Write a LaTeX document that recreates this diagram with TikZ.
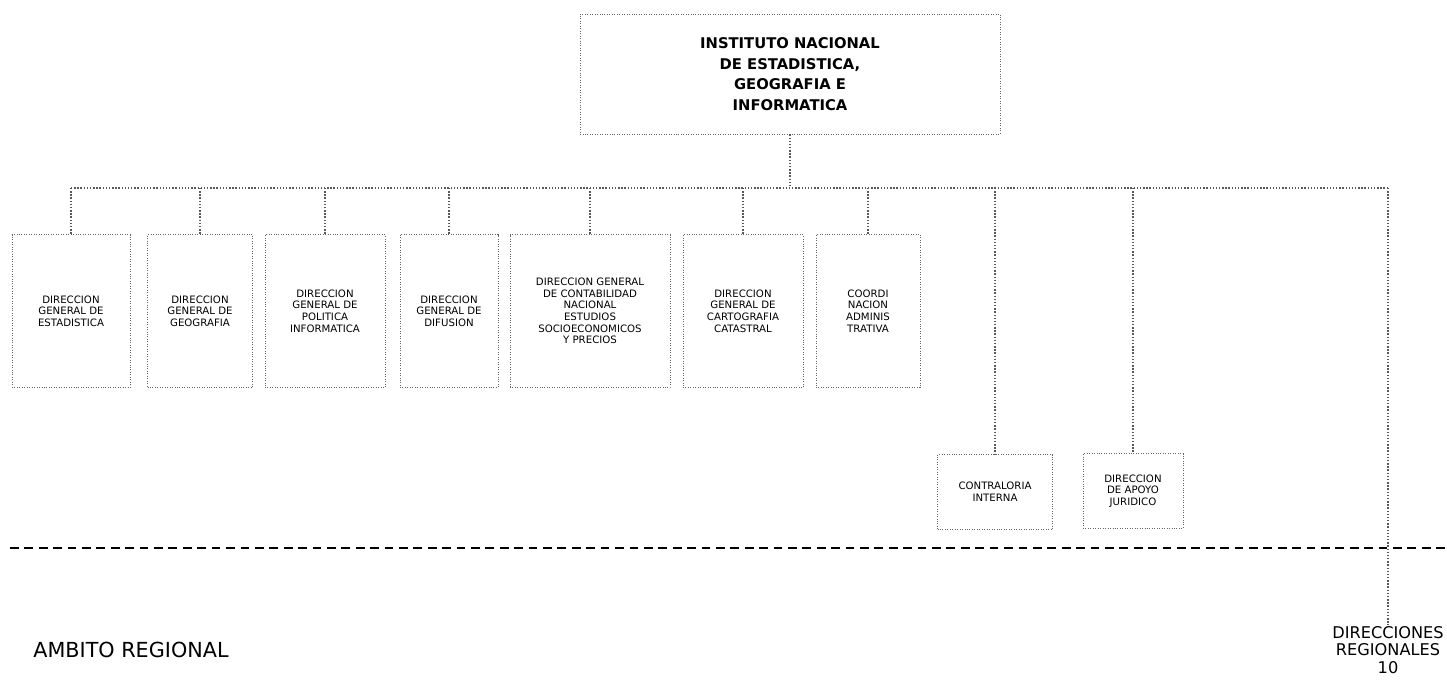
\documentclass[tikz,border=0pt]{standalone}
\usepackage{fontspec}
\setmainfont{DejaVu Sans}
\begin{document}
\begin{tikzpicture}[
        x=0.02cm, y=-0.02cm,
        unit/.style={draw=black!60, densely dotted, align=center, inner sep=1pt, font=\fontsize{5.8}{6.6}\selectfont, minimum height=3.06cm},
        staff/.style={unit, minimum height=1.5cm},
        link/.style={draw=black!65, densely dotted, thick},
        sep/.style={draw=black, thick, dash pattern=on 5pt off 3.2pt}
      ]
        \useasboundingbox (0,0) rectangle (1447,690);
        % head
        \node (inegi) [draw=black!60, densely dotted, minimum width=8.4cm, minimum height=2.4cm, align=center,
               font=\fontsize{8.4}{11.8}\selectfont\bfseries] at (790,74)
               {INSTITUTO NACIONAL\\ DE ESTADISTICA,\\ GEOGRAFIA E\\ INFORMATICA};
        % direcciones generales
        \node (estad) [unit, minimum width=2.36cm] at (71,311)  {DIRECCION\\ GENERAL DE\\ ESTADISTICA};
        \node (geog)  [unit, minimum width=2.1cm]  at (200,311) {DIRECCION\\ GENERAL DE\\ GEOGRAFIA};
        \node (polit) [unit, minimum width=2.4cm]  at (325,311) {DIRECCION\\ GENERAL DE\\ POLITICA\\ INFORMATICA};
        \node (difus) [unit, minimum width=1.96cm] at (449,311) {DIRECCION\\ GENERAL DE\\ DIFUSION};
        \node (conta) [unit, minimum width=3.2cm]  at (590,311) {DIRECCION GENERAL\\ DE CONTABILIDAD\\ NACIONAL\\ ESTUDIOS\\ SOCIOECONOMICOS\\ Y PRECIOS};
        \node (carto) [unit, minimum width=2.4cm]  at (743,311) {DIRECCION\\ GENERAL DE\\ CARTOGRAFIA\\ CATASTRAL};
        \node (coord) [unit, minimum width=2.08cm] at (868,311) {COORDI\\ NACION\\ ADMINIS\\ TRATIVA};
        % staff
        \node (contra) [staff, minimum width=2.3cm] at (995,492)  {CONTRALORIA\\ INTERNA};
        \node (jurid)  [staff, minimum width=2.0cm] at (1133,491) {DIRECCION\\ DE APOYO\\ JURIDICO};
        % regional
        \node (region) [font=\fontsize{9.2}{9.8}\selectfont, align=center, inner sep=1pt] at (1388,650) {DIRECCIONES\\ REGIONALES\\ 10};
        \node (ambito) [font=\fontsize{11.8}{14}\selectfont, anchor=west, inner sep=0pt] at (33,650) {AMBITO REGIONAL};
        \coordinate (busL) at (71,188);
        \coordinate (busR) at (1388,188);
        \coordinate (sepL) at (10,548);
        \coordinate (sepR) at (1447,548);
        % connectors
        \draw[link] (inegi.south) -- (inegi.south |- busL);
        \draw[link] (busL) -- (busR);
        \foreach \n in {estad,geog,polit,difus,conta,carto,coord}
          \draw[link] (\n.north |- busL) -- (\n.north);
        \draw[link] (contra.north |- busL) -- (contra.north);
        \draw[link] (jurid.north |- busL) -- (jurid.north);
        \draw[link] (busR) -- (region.north);
        \draw[sep] (sepL) -- (sepR);
      \end{tikzpicture}
\end{document}
